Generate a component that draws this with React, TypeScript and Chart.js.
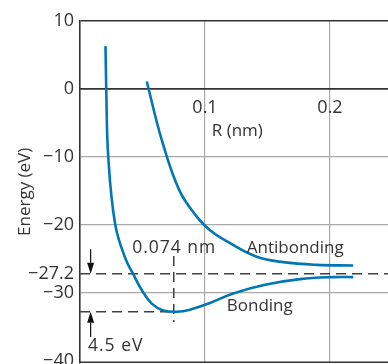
import React, { useEffect, useRef } from 'react';
import { Chart, registerables } from 'chart.js';

Chart.register(...registerables);

// Bonding curve (R in nm, energy in eV)
const bondingR = [0.0204, 0.021, 0.0226, 0.0282, 0.0364, 0.0424, 0.0494, 0.0574, 0.0666, 0.0774, 0.088, 0.104, 0.1226, 0.149, 0.176, 0.2026, 0.2186];
const bondingE = [6.3, 0, -10.0, -20.0, -25.0, -27.2, -29.6, -31.6, -32.6, -32.8, -32.5, -31.5, -30.1, -28.8, -28.0, -27.7, -27.7];

// Antibonding curve
const antibondingR = [0.0534, 0.0654, 0.0794, 0.0934, 0.104, 0.12, 0.1414, 0.1626, 0.1894, 0.2186];
const antibondingE = [1.1, -7.5, -14.9, -18.8, -20.8, -22.7, -24.7, -25.5, -25.9, -26.0];

// Axis ticks
const yTickValues = [10, 0, -10, -20, -27.2, -30, -40];
const xTickValues = [0, 0.1, 0.2];

// Annotation values
const dissociationE = -27.2;
const minimumE = -32.8;
const bondLengthR = 0.075;
const markerTopE = -24.6;
const markerBottomE = -34.3;
const arrowR = 0.0085;
const upperArrowTailE = -23.6;
const lowerArrowTailE = -36.5;
const bondLengthLabel = '0.074 nm';
const bindingLabel = '4.5 eV';
const antibondingLabel = 'Antibonding';
const bondingLabel = 'Bonding';
const xTitle = 'R (nm)';
const yTitle = 'Energy (eV)';

const BLUE = 'rgb(0,119,179)';
const DARK = '#333333';
const GRID = '#a9a9a9';
const DASH = '#404040';
const TEXT = '#333333';
const FONT = "'Open Sans', 'DejaVu Sans', sans-serif";

const fmt = (v: number) => (v < 0 ? '\u2212' + String(Math.abs(v)) : String(v));

const annotationPlugin = {
  id: 'mo-annotations',
  beforeDatasetsDraw(chart: any) {
    const { ctx, chartArea, scales } = chart;
    const x = scales.x;
    const y = scales.y;
    ctx.save();
    // bottom frame line
    ctx.strokeStyle = DARK;
    ctx.lineWidth = 1.6;
    ctx.beginPath();
    ctx.moveTo(chartArea.left, chartArea.bottom - 0.5);
    ctx.lineTo(chartArea.right, chartArea.bottom - 0.5);
    ctx.stroke();

    // dashed reference lines
    ctx.strokeStyle = DASH;
    ctx.lineWidth = 1.5;
    ctx.setLineDash([10, 6]);
    const yD = y.getPixelForValue(dissociationE);
    const yM = y.getPixelForValue(minimumE);
    const xM = x.getPixelForValue(bondLengthR);
    ctx.beginPath();
    ctx.moveTo(chartArea.left, yD);
    ctx.lineTo(chartArea.right, yD);
    ctx.stroke();
    ctx.beginPath();
    ctx.moveTo(chartArea.left, yM);
    ctx.lineTo(xM, yM);
    ctx.stroke();
    ctx.beginPath();
    ctx.moveTo(xM, y.getPixelForValue(markerTopE));
    ctx.lineTo(xM, y.getPixelForValue(markerBottomE));
    ctx.stroke();
    ctx.setLineDash([]);

    // arrows
    const xa = x.getPixelForValue(arrowR);
    const drawArrow = (fromE: number, toE: number) => {
      const y0 = y.getPixelForValue(fromE);
      const y1 = y.getPixelForValue(toE);
      const dir = y1 > y0 ? 1 : -1;
      const head = 11;
      ctx.strokeStyle = '#111';
      ctx.fillStyle = '#111';
      ctx.lineWidth = 1.2;
      ctx.beginPath();
      ctx.moveTo(xa, y0);
      ctx.lineTo(xa, y1 - dir * head);
      ctx.stroke();
      ctx.beginPath();
      ctx.moveTo(xa, y1);
      ctx.lineTo(xa - 3.5, y1 - dir * head);
      ctx.lineTo(xa + 3.5, y1 - dir * head);
      ctx.closePath();
      ctx.fill();
    };
    drawArrow(upperArrowTailE, dissociationE);
    drawArrow(lowerArrowTailE, minimumE);
    ctx.restore();
  },
  afterDraw(chart: any) {
    const { ctx, chartArea, scales } = chart;
    const x = scales.x;
    const y = scales.y;
    ctx.save();
    ctx.fillStyle = TEXT;
    ctx.textBaseline = 'alphabetic';
    const yD = y.getPixelForValue(dissociationE);
    const yM = y.getPixelForValue(minimumE);
    // numeric labels (wider digits in the original)
    ctx.font = `17.5px ${FONT}`;
    try { (ctx as any).letterSpacing = '1px'; } catch (e) { /* ignore */ }
    ctx.textAlign = 'center';
    ctx.fillText(bondLengthLabel, x.getPixelForValue(bondLengthR) + 0.5, yD - 21);
    ctx.textAlign = 'left';
    ctx.fillText(bindingLabel, x.getPixelForValue(0.0064), yM + 39.5);
    try { (ctx as any).letterSpacing = '0px'; } catch (e) { /* ignore */ }
    ctx.font = `17px ${FONT}`;
    ctx.fillText(antibondingLabel, x.getPixelForValue(0.1334), yD - 21);
    ctx.fillText(bondingLabel, x.getPixelForValue(0.1174), yM - 0.5);
    ctx.fillText(xTitle, x.getPixelForValue(0.1054), y.getPixelForValue(0) + 47.5);
    // y title
    ctx.translate(30, (chartArea.top + chartArea.bottom) / 2);
    ctx.rotate(-Math.PI / 2);
    ctx.textAlign = 'center';
    ctx.fillText(yTitle, 0, 0);
    ctx.restore();
  },
};

export default function App() {
  const canvasRef = useRef<HTMLCanvasElement | null>(null);

  useEffect(() => {
    if (!canvasRef.current) return;
    Chart.defaults.font.family = FONT;
    const chart = new Chart(canvasRef.current, {
      type: 'line',
      data: {
        datasets: [
          {
            label: 'Bonding',
            data: bondingR.map((r, i) => ({ x: r, y: bondingE[i] })),
            borderColor: BLUE,
            borderWidth: 2.6,
            pointRadius: 0,
            fill: false,
            tension: 0.4,
          },
          {
            label: 'Antibonding',
            data: antibondingR.map((r, i) => ({ x: r, y: antibondingE[i] })),
            borderColor: BLUE,
            borderWidth: 2.6,
            pointRadius: 0,
            fill: false,
            tension: 0.4,
          },
        ],
      },
      options: {
        responsive: false,
        animation: false,
        devicePixelRatio: 1,
        layout: { padding: { top: 21, bottom: 1.3, left: 0, right: 0 } },
        plugins: {
          legend: { display: false },
          tooltip: { enabled: false },
          title: { display: false },
        },
        scales: {
          x: {
            type: 'linear',
            min: 0,
            max: 0.2464,
            position: { y: 0 } as any,
            afterBuildTicks: (s: any) => {
              s.ticks = xTickValues.map((v) => ({ value: v }));
            },
            grid: {
              color: (c: any) => (c.tick && c.tick.value === 0 ? 'rgba(0,0,0,0)' : GRID),
              lineWidth: 1.2,
              drawTicks: false,
            },
            border: { display: true, color: DARK, width: 1.6 },
            ticks: {
              padding: 8,
              color: TEXT,
              font: { size: 18 },
              maxRotation: 0,
              autoSkip: false,
              callback: (v: any) => (Number(v) === 0 ? '' : String(v)),
            },
          },
          y: {
            type: 'linear',
            min: -40.3,
            max: 10,
            afterBuildTicks: (s: any) => {
              s.ticks = yTickValues.map((v) => ({ value: v }));
            },
            afterFit: (s: any) => {
              s.width = 80;
              s.paddingTop = 0;
              s.paddingBottom = 0;
            },
            grid: {
              color: (c: any) => {
                const v = c.tick ? c.tick.value : null;
                if (v === 10 || v === 0) return DARK;
                if (v === -27.2 || v === -40) return 'rgba(0,0,0,0)';
                return GRID;
              },
              lineWidth: (c: any) => {
                const v = c.tick ? c.tick.value : null;
                return v === 10 || v === 0 ? 1.6 : 1.2;
              },
              drawTicks: false,
            },
            border: { display: true, color: DARK, width: 1.6 },
            ticks: {
              padding: 6,
              color: TEXT,
              font: { size: 18 },
              autoSkip: false,
              callback: (v: any) => fmt(Number(v)),
            },
          },
        },
      },
      plugins: [annotationPlugin],
    } as any);
    return () => chart.destroy();
  }, []);

  return (
    <div style={{ position: 'absolute', left: 0, top: 0, width: 388, height: 364, background: '#fff' }}>
      <canvas ref={canvasRef} width={388} height={364} style={{ display: 'block' }} />
    </div>
  );
}
